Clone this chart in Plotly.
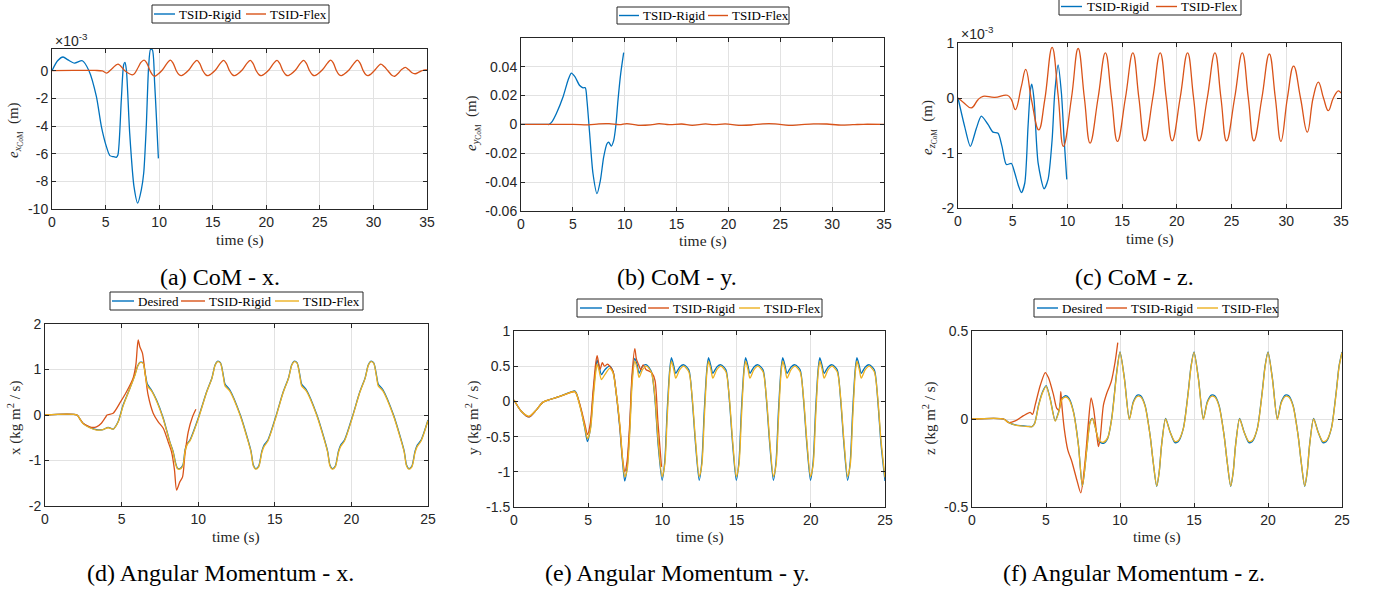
import plotly.graph_objects as go

# ---------------- DATA ----------------
# (a) CoM error x  [values in units of 1e-3 m]
A_RIGID = [(0, 0), (0.5, 0.7), (1.03, 0.99), (1.5, 0.78), (2.1, 0.55), (2.83, 0.72), (3.45, 0.0),
           (4.14, -1.86), (4.6, -4.0), (5.07, -5.47), (5.4, -6.14), (5.75, -6.22), (6.0, -6.27),
           (6.15, -6.1), (6.47, -2.1), (6.69, 0.43), (6.81, 0.6), (6.94, 0.07), (7.25, -4.5),
           (7.65, -8.36), (8.0, -9.57), (8.34, -8.6), (8.56, -7.4), (8.8, -4.0), (9.02, 0.31),
           (9.2, 1.55), (9.37, 1.5), (9.58, -0.9), (9.74, -3.3), (9.93, -6.34)]
A_FLEX = [(0, 0), (2, 0.02), (4, 0.02), (4.7, -0.02), (5.1, -0.17), (5.6, 0.15), (6.16, 0.48),
          (6.8, 0.0), (7.56, -0.29), (8.05, 0.25),
          (8.3, 0.6), (8.59, 0.77), (8.85, 0.55), (9.15, 0.0), (9.4, -0.32), (9.6, -0.4),
          (9.85, -0.28), (10.3, 0.05), (10.75, 0.55),
          (11.05, 0.77), (11.3, 0.55), (11.6, 0.0), (11.87, -0.3), (12.07, -0.36), (12.32, -0.25),
          (12.77, 0.05), (13.23, 0.55),
          (13.53, 0.75), (13.78, 0.53), (14.08, 0.0), (14.36, -0.3), (14.56, -0.36), (14.81, -0.25),
          (15.26, 0.05), (15.72, 0.55),
          (16.02, 0.75), (16.27, 0.53), (16.57, 0.0), (16.85, -0.3), (17.05, -0.36), (17.3, -0.25),
          (17.75, 0.05), (18.21, 0.55),
          (18.51, 0.75), (18.76, 0.53), (19.06, 0.0), (19.34, -0.3), (19.54, -0.36), (19.79, -0.25),
          (20.24, 0.05), (20.7, 0.55),
          (21.0, 0.75), (21.25, 0.53), (21.55, 0.0), (21.83, -0.3), (22.03, -0.36), (22.28, -0.25),
          (22.73, 0.05), (23.19, 0.55),
          (23.49, 0.75), (23.74, 0.53), (24.04, 0.0), (24.32, -0.3), (24.52, -0.36), (24.77, -0.25),
          (25.22, 0.05), (25.71, 0.55),
          (26.01, 0.77), (26.26, 0.55), (26.55, 0.0), (26.8, -0.3), (27.0, -0.36), (27.25, -0.25),
          (27.72, 0.05), (28.2, 0.55),
          (28.5, 0.77), (28.75, 0.55), (29.05, 0.0), (29.3, -0.3), (29.5, -0.36), (29.75, -0.25),
          (30.2, 0.1), (30.68, 0.48), (31.0, 0.3), (31.35, 0.0), (31.75, -0.35), (31.98, -0.4),
          (32.3, -0.2), (32.65, 0.1), (32.98, 0.24), (33.25, 0.1), (33.6, -0.15), (33.9, -0.22),
          (34.3, -0.08), (34.7, 0.05), (35, 0.05)]

# (b) CoM error y [m]
B_RIGID = [(0, 0), (2.5, 0), (2.7, 0.0), (3.0, 0.002), (3.4, 0.0074), (4.05, 0.019), (4.53, 0.0305),
           (4.85, 0.0356), (5.18, 0.0333), (5.66, 0.027), (5.98, 0.0254), (6.2, 0.0254),
           (6.36, 0.0166), (6.62, -0.0065), (6.94, -0.034), (7.33, -0.048), (7.65, -0.039),
           (7.97, -0.0227), (8.29, -0.0134), (8.45, -0.0123), (8.71, -0.015), (8.94, -0.011),
           (9.13, -0.0018), (9.35, 0.0166), (9.61, 0.035), (9.9, 0.0497)]
B_FLEX = [(0, 0), (5, 0), (6.5, -0.0003), (7.5, 0.0004), (8.5, 0.0005), (9.5, -0.0002),
          (10.2, 0.0006), (11.3, -0.0006), (12.5, -0.0003), (13.3, 0.0005), (14.3, -0.0002),
          (15.5, 0.0003), (16.5, -0.0006), (17.8, 0.0004), (18.6, -0.0002), (19.7, 0.0004),
          (21, -0.0006), (22.2, -0.0004), (23.3, 0.0004), (24.5, 0.0004), (25.8, -0.0006),
          (26.8, -0.0003), (28.2, 0.0004), (29.5, 0.0003), (30.6, -0.0004), (32, -0.0002),
          (33, 0.0001), (35, 0.0)]

# (c) CoM error z [units of 1e-3 m]
C_RIGID = [(0, 0), (0.61, -0.52), (1.13, -0.88), (1.68, -0.55), (2.13, -0.33), (2.74, -0.48),
           (3.2, -0.62), (3.66, -0.64), (4.02, -0.88), (4.42, -1.21), (4.88, -1.19), (5.18, -1.36),
           (5.55, -1.61), (5.79, -1.72), (6.1, -1.55), (6.4, -0.52), (6.62, 0.15), (6.74, 0.25),
           (6.95, -0.03), (7.32, -1.18), (7.87, -1.65), (8.23, -1.48), (8.6, -0.76), (8.84, 0.09),
           (9.15, 0.6), (9.45, 0.09), (9.7, -0.76), (9.94, -1.48)]
C_FLEX = [(0, 0), (0.5, -0.08), (1.22, -0.18), (1.83, -0.03), (2.29, 0.03), (3.35, 0.01),
          (4.51, 0.05), (4.88, -0.03), (5.24, -0.21), (5.79, 0.21), (6.19, 0.52), (6.71, -0.03),
          (7.38, -0.58), (7.93, -0.03), (8.6, 0.92), (9.15, 0.05), (9.63, -0.88), (10.37, 0.0),
          (10.98, 0.9), (11.55, 0.0), (12.07, -0.82), (12.8, 0.0), (13.47, 0.82), (14.03, 0.0),
          (14.57, -0.79), (15.3, 0.0), (15.98, 0.82), (16.53, 0.0), (17.07, -0.78), (17.8, 0.0),
          (18.48, 0.82), (19.03, 0.0), (19.57, -0.78), (20.3, 0.0), (20.98, 0.82), (21.53, 0.0),
          (22.04, -0.78), (22.78, 0.0), (23.48, 0.82), (24.03, 0.0), (24.54, -0.78), (25.28, 0.0),
          (25.98, 0.82), (26.53, 0.0), (27.04, -0.78), (27.77, 0.0), (28.45, 0.8), (29.0, 0.0),
          (29.51, -0.79), (30.1, 0.0), (30.67, 0.58), (31.3, 0.0), (31.92, -0.62), (32.45, 0.0),
          (32.93, 0.29), (33.4, 0.0), (33.84, -0.23), (34.3, 0.0), (34.76, 0.13), (35.0, 0.09)]

# (d) Angular momentum x
D_T = [0, 2.09, 2.3, 2.48, 2.92, 3.36, 3.79, 4.12, 4.45, 4.77, 5.1, 5.54, 5.86, 6.05, 6.19, 6.4,
       6.55, 6.68, 6.95, 7.28, 7.72, 8.15, 8.37, 8.52, 8.65, 8.8, 9.0, 9.15, 9.3, 9.46, 10.0,
       10.55, 10.9, 11.1, 11.25, 11.45, 11.65, 11.75, 12.05, 12.75, 13.25, 13.45, 13.6, 13.75,
       13.95, 14.15, 14.3, 14.55, 15.05, 15.55, 15.9, 16.1, 16.25, 16.45, 16.65, 16.75, 17.05,
       17.75, 18.25, 18.45, 18.6, 18.75, 18.95, 19.15, 19.3, 19.55, 20.05, 20.55, 20.9, 21.1,
       21.25, 21.45, 21.65, 21.75, 22.05, 22.75, 23.25, 23.45, 23.6, 23.75, 23.95, 24.15, 24.3,
       24.55, 25.0]
D_DES = [0, 0, -0.1, -0.18, -0.27, -0.32, -0.32, -0.27, -0.31, -0.15, 0.22, 0.59, 0.88, 1.08,
         1.16, 1.15, 0.9, 0.68, 0.55, 0.33, -0.07, -0.59, -0.81, -1.05, -1.17, -1.18, -1.1, -0.75,
         -0.62, -0.55, -0.07, 0.51, 0.82, 1.1, 1.18, 1.15, 0.85, 0.68, 0.56, 0.0, -0.55, -0.8,
         -1.1, -1.18, -1.12, -0.8, -0.66, -0.55, -0.05, 0.51, 0.82, 1.1, 1.18, 1.15, 0.85, 0.68,
         0.56, 0.0, -0.55, -0.8, -1.1, -1.18, -1.12, -0.8, -0.66, -0.55, -0.05, 0.51, 0.82, 1.1,
         1.18, 1.15, 0.85, 0.68, 0.56, 0.0, -0.55, -0.8, -1.1, -1.18, -1.12, -0.8, -0.66, -0.55,
         -0.11]
D_FLEX = [0, 0, -0.1, -0.19, -0.28, -0.33, -0.32, -0.28, -0.31, -0.16, 0.2, 0.58, 0.86, 1.07,
          1.15, 1.14, 0.87, 0.64, 0.53, 0.31, -0.09, -0.6, -0.83, -1.07, -1.18, -1.19, -1.12,
          -0.78, -0.64, -0.57, -0.09, 0.5, 0.81, 1.09, 1.17, 1.14, 0.82, 0.64, 0.53, -0.02, -0.57,
          -0.82, -1.12, -1.19, -1.14, -0.83, -0.69, -0.57, -0.07, 0.5, 0.81, 1.09, 1.17, 1.14,
          0.82, 0.64, 0.53, -0.02, -0.57, -0.82, -1.12, -1.19, -1.14, -0.83, -0.69, -0.57, -0.07,
          0.5, 0.81, 1.09, 1.17, 1.14, 0.82, 0.64, 0.53, -0.02, -0.57, -0.82, -1.12, -1.19, -1.14,
          -0.83, -0.69, -0.57, -0.12]
D_RIGID = [(0, 0), (2.09, 0), (2.3, -0.1), (2.48, -0.18), (3.03, -0.27), (3.36, -0.26),
           (3.68, -0.18), (3.97, -0.04), (4.05, 0.0), (4.45, 0.04), (4.88, 0.26), (5.32, 0.51),
           (5.75, 0.81), (5.93, 1.1), (6.08, 1.65), (6.19, 1.5), (6.36, 1.36), (6.52, 0.96),
           (6.73, 0.44), (7.06, 0.04), (7.39, -0.15), (7.72, -0.29), (8.04, -0.59), (8.26, -0.81),
           (8.45, -1.2), (8.59, -1.65), (8.8, -1.47), (8.98, -1.36), (9.13, -0.88), (9.35, -0.37),
           (9.63, -0.04), (9.85, 0.125)]

# (e) Angular momentum y
E_T = [0, 0.49, 1.01, 1.51, 1.96, 3.08, 4.09, 4.2, 4.54, 4.77, 4.95, 5.15, 5.33, 5.51, 5.6,
       5.73, 5.89, 6.12, 6.45, 6.68, 6.9, 7.13, 7.31, 7.46, 7.62, 7.8, 7.96, 8.14, 8.3, 8.43,
       8.66, 8.93, 9.26, 9.49, 9.71,
       9.98, 10.16, 10.32, 10.5, 10.61, 10.77, 10.9, 11.17, 11.44, 11.78, 12.0, 12.23,
       12.48, 12.66, 12.82, 13.0, 13.11, 13.27, 13.4, 13.67, 13.94, 14.28, 14.5, 14.73,
       14.98, 15.16, 15.32, 15.5, 15.61, 15.77, 15.9, 16.17, 16.44, 16.78, 17.0, 17.23,
       17.48, 17.66, 17.82, 18.0, 18.11, 18.27, 18.4, 18.67, 18.94, 19.28, 19.5, 19.73,
       19.98, 20.16, 20.32, 20.5, 20.61, 20.77, 20.9, 21.17, 21.44, 21.78, 22.0, 22.23,
       22.48, 22.66, 22.82, 23.0, 23.11, 23.27, 23.4, 23.67, 23.94, 24.28, 24.5, 24.73, 25.0]
E_DES = [0.02, -0.14, -0.22, -0.12, -0.01, 0.07, 0.15, 0.12, -0.14, -0.38, -0.57, -0.38, 0.09,
         0.47, 0.59, 0.5, 0.38, 0.45, 0.5, 0.42, 0.09, -0.38, -0.85, -1.13, -0.94, -0.38, 0.33,
         0.61, 0.52, 0.4, 0.5, 0.52, 0.42, 0.05, -0.61,
         -1.12, -0.85, -0.14, 0.47, 0.62, 0.5, 0.4, 0.49, 0.52, 0.45, 0.05, -0.6,
         -1.12, -0.85, -0.14, 0.47, 0.62, 0.5, 0.4, 0.49, 0.52, 0.45, 0.05, -0.6,
         -1.12, -0.85, -0.14, 0.47, 0.62, 0.5, 0.4, 0.49, 0.52, 0.45, 0.05, -0.6,
         -1.12, -0.85, -0.14, 0.47, 0.62, 0.5, 0.4, 0.49, 0.52, 0.45, 0.05, -0.6,
         -1.12, -0.85, -0.14, 0.47, 0.62, 0.5, 0.4, 0.49, 0.52, 0.45, 0.05, -0.6,
         -1.12, -0.85, -0.14, 0.47, 0.62, 0.5, 0.4, 0.49, 0.52, 0.45, 0.05, -0.6, -1.13]
E_FLEX = [0.02, -0.14, -0.21, -0.12, -0.01, 0.07, 0.14, 0.11, -0.15, -0.37, -0.53, -0.4, 0.02,
          0.42, 0.53, 0.44, 0.31, 0.38, 0.47, 0.4, 0.1, -0.33, -0.8, -1.07, -0.98, -0.45, 0.25,
          0.57, 0.47, 0.34, 0.45, 0.5, 0.41, 0.08, -0.55,
          -1.07, -0.9, -0.25, 0.42, 0.57, 0.45, 0.33, 0.45, 0.5, 0.42, 0.08, -0.55,
          -1.07, -0.9, -0.25, 0.42, 0.57, 0.45, 0.33, 0.45, 0.5, 0.42, 0.08, -0.55,
          -1.07, -0.9, -0.25, 0.42, 0.57, 0.45, 0.33, 0.45, 0.5, 0.42, 0.08, -0.55,
          -1.07, -0.9, -0.25, 0.42, 0.57, 0.45, 0.33, 0.45, 0.5, 0.42, 0.08, -0.55,
          -1.07, -0.9, -0.25, 0.42, 0.57, 0.45, 0.33, 0.45, 0.5, 0.42, 0.08, -0.55,
          -1.07, -0.9, -0.25, 0.42, 0.57, 0.45, 0.33, 0.45, 0.5, 0.42, 0.08, -0.55, -1.08]
E_RIGID = [(0, 0.02), (0.49, -0.14), (1.01, -0.22), (1.51, -0.12), (1.96, -0.01), (3.08, 0.07),
           (4.09, 0.14), (4.2, 0.11), (4.54, -0.12), (4.77, -0.32), (4.95, -0.47), (5.15, -0.3),
           (5.33, 0.15), (5.51, 0.55), (5.6, 0.65), (5.7, 0.55), (5.8, 0.45), (5.95, 0.55),
           (6.1, 0.5), (6.3, 0.53), (6.45, 0.5), (6.68, 0.42), (6.9, 0.1), (7.13, -0.35),
           (7.31, -0.8), (7.46, -1.0), (7.62, -0.85), (7.8, -0.3), (7.96, 0.4), (8.14, 0.75),
           (8.25, 0.6), (8.4, 0.52), (8.55, 0.45), (8.7, 0.52), (8.9, 0.45), (9.1, 0.43),
           (9.3, 0.4), (9.5, 0.3), (9.7, -0.3), (9.94, -0.93)]

# (f) Angular momentum z
F_T = [0, 2.14, 2.47, 2.92, 3.82, 4.05, 4.23, 4.5, 4.77, 5.01, 5.28, 5.62, 5.85, 6.07, 6.34,
       6.56, 6.86, 7.19, 7.46, 7.76, 7.98, 8.14, 8.32, 8.59, 8.88, 9.17, 9.44, 9.78,
       10.0, 10.3, 10.63, 10.9, 11.17, 11.4, 11.69, 12.03, 12.25, 12.48, 12.65, 12.81, 13.08,
       13.38, 13.71, 13.94, 14.28, 14.61, 14.8,
       15.0, 15.3, 15.63, 15.9, 16.17, 16.4, 16.69, 17.03, 17.25, 17.48, 17.65, 17.81, 18.08,
       18.38, 18.71, 18.94, 19.28, 19.61, 19.8,
       20.0, 20.3, 20.63, 20.9, 21.17, 21.4, 21.69, 22.03, 22.25, 22.48, 22.65, 22.81, 23.08,
       23.38, 23.71, 23.94, 24.28, 24.61, 24.8, 25.0]
F_DES = [0, 0, -0.019, -0.034, -0.042, -0.043, -0.025, 0.08, 0.155, 0.19, 0.117, -0.01, 0.04,
         0.117, 0.132, 0.117, 0.04, -0.147, -0.383, -0.166, -0.015, 0.004, -0.043, -0.128,
         -0.138, -0.11, 0.004, 0.268,
         0.381, 0.23, 0.0, 0.098, 0.136, 0.132, 0.079, -0.09, -0.25, -0.383, -0.3, -0.147, 0.004,
         -0.072, -0.134, -0.128, -0.053, 0.155, 0.3,
         0.381, 0.23, 0.0, 0.098, 0.136, 0.132, 0.079, -0.09, -0.25, -0.383, -0.3, -0.147, 0.004,
         -0.072, -0.134, -0.128, -0.053, 0.155, 0.3,
         0.381, 0.23, 0.0, 0.098, 0.136, 0.132, 0.079, -0.09, -0.25, -0.383, -0.3, -0.147, 0.004,
         -0.072, -0.134, -0.128, -0.053, 0.155, 0.3, 0.381]
F_FLEX = [0, 0, -0.02, -0.035, -0.043, -0.044, -0.027, 0.075, 0.15, 0.185, 0.112, -0.012, 0.035,
          0.11, 0.125, 0.11, 0.036, -0.15, -0.38, -0.17, -0.02, 0.002, -0.045, -0.122, -0.132,
          -0.106, 0.0, 0.26,
          0.378, 0.226, -0.003, 0.092, 0.128, 0.125, 0.074, -0.092, -0.25, -0.38, -0.3, -0.15,
          0.0, -0.074, -0.128, -0.122, -0.055, 0.15, 0.295,
          0.378, 0.226, -0.003, 0.092, 0.128, 0.125, 0.074, -0.092, -0.25, -0.38, -0.3, -0.15,
          0.0, -0.074, -0.128, -0.122, -0.055, 0.15, 0.295,
          0.378, 0.226, -0.003, 0.092, 0.128, 0.125, 0.074, -0.092, -0.25, -0.38, -0.3, -0.15,
          0.0, -0.074, -0.128, -0.122, -0.055, 0.15, 0.295, 0.378]
F_RIGID = [(0, 0), (2.14, 0), (2.47, -0.02), (2.92, -0.011), (3.48, 0.019), (3.93, 0.038),
           (4.09, 0.026), (4.27, 0.08), (4.61, 0.19), (4.95, 0.264), (5.17, 0.234), (5.51, 0.136),
           (5.73, 0.06), (5.89, 0.051), (6.0, 0.155), (6.07, 0.08), (6.23, -0.053), (6.47, -0.175),
           (6.74, -0.24), (7.08, -0.345), (7.35, -0.42), (7.64, -0.24), (7.87, -0.015),
           (8.05, 0.12), (8.21, 0.06), (8.43, -0.09), (8.54, -0.157), (8.66, -0.11), (8.88, 0.079),
           (9.1, 0.145), (9.4, 0.21), (9.67, 0.325), (9.85, 0.434)]

assert len(D_T) == len(D_DES) == len(D_FLEX)
assert len(E_T) == len(E_DES) == len(E_FLEX)
assert len(F_T) == len(F_DES) == len(F_FLEX)

# ---------------- STYLE ----------------
BLUE = "#0072BD"
ORANGE = "#D95319"
YELLOW = "#EDB120"
W, H = 1375, 592
SERIF = "Liberation Serif"
SANS = "Liberation Sans"
AXC = "#262626"


def px(x0, x1):
    return [x0 / W, x1 / W]


def py(top, bottom):
    return [1 - bottom / H, 1 - top / H]


fig = go.Figure()


def add(xs, ys, color, name, xa, ya, smooth=0.7, width=1.3):
    fig.add_trace(go.Scatter(x=list(xs), y=list(ys), mode="lines", name=name, showlegend=False,
                             line=dict(color=color, width=width, shape="spline", smoothing=smooth),
                             xaxis=xa, yaxis=ya))


def pairs(p):
    return [a for a, _ in p], [b for _, b in p]


# (a)
add(*pairs(A_RIGID), BLUE, "TSID-Rigid", "x", "y")
add(*pairs(A_FLEX), ORANGE, "TSID-Flex", "x", "y", smooth=1.0)
# (b)
add(*pairs(B_RIGID), BLUE, "TSID-Rigid", "x2", "y2")
add(*pairs(B_FLEX), ORANGE, "TSID-Flex", "x2", "y2", smooth=1.0)
# (c)
add(*pairs(C_RIGID), BLUE, "TSID-Rigid", "x3", "y3")
add(*pairs(C_FLEX), ORANGE, "TSID-Flex", "x3", "y3", smooth=1.25)
# (d)
add(D_T, D_DES, BLUE, "Desired", "x4", "y4")
add(*pairs(D_RIGID), ORANGE, "TSID-Rigid", "x4", "y4")
add(D_T, D_FLEX, YELLOW, "TSID-Flex", "x4", "y4")
# (e)
add(E_T, E_DES, BLUE, "Desired", "x5", "y5")
add(*pairs(E_RIGID), ORANGE, "TSID-Rigid", "x5", "y5")
add(E_T, E_FLEX, YELLOW, "TSID-Flex", "x5", "y5")
# (f)
add(F_T, F_DES, BLUE, "Desired", "x6", "y6")
add(*pairs(F_RIGID), ORANGE, "TSID-Rigid", "x6", "y6")
add(F_T, F_FLEX, YELLOW, "TSID-Flex", "x6", "y6")


def axis(domain, rng, tv, tt, anchor):
    return dict(domain=domain, range=rng, tickvals=tv, ticktext=tt, anchor=anchor,
                automargin=False,
                showgrid=True, gridcolor="#e2e2e2", gridwidth=1, zeroline=False,
                showline=True, linecolor=AXC, linewidth=1, mirror="ticks",
                ticks="inside", ticklen=4, tickcolor=AXC,
                tickfont=dict(family=SANS, size=14, color=AXC))


X35 = [0, 5, 10, 15, 20, 25, 30, 35]
X25 = [0, 5, 10, 15, 20, 25]
lab = lambda vals: [str(v) for v in vals]

panels = {
    "a": dict(x=px(52, 427), y=py(49, 209)),
    "b": dict(x=px(521, 884), y=py(38, 211)),
    "c": dict(x=px(958, 1341), y=py(43, 208)),
    "d": dict(x=px(45, 428), y=py(324, 506)),
    "e": dict(x=px(514, 885), y=py(331, 507)),
    "f": dict(x=px(972, 1342), y=py(331, 507)),
}

fig.update_layout(
    xaxis=axis(panels["a"]["x"], [0, 35], X35, lab(X35), "y"),
    yaxis=axis(panels["a"]["y"], [-10, 1.57], [-10, -8, -6, -4, -2, 0],
               ["-10", "-8", "-6", "-4", "-2", "0"], "x"),
    xaxis2=axis(panels["b"]["x"], [0, 35], X35, lab(X35), "y2"),
    yaxis2=axis(panels["b"]["y"], [-0.06, 0.0599], [-0.06, -0.04, -0.02, 0, 0.02, 0.04],
                ["-0.06", "-0.04", "-0.02", "0", "0.02", "0.04"], "x2"),
    xaxis3=axis(panels["c"]["x"], [0, 35], X35, lab(X35), "y3"),
    yaxis3=axis(panels["c"]["y"], [-2, 1], [-2, -1, 0, 1], ["-2", "-1", "0", "1"], "x3"),
    xaxis4=axis(panels["d"]["x"], [0, 25], X25, lab(X25), "y4"),
    yaxis4=axis(panels["d"]["y"], [-2, 2], [-2, -1, 0, 1, 2], ["-2", "-1", "0", "1", "2"], "x4"),
    xaxis5=axis(panels["e"]["x"], [0, 25], X25, lab(X25), "y5"),
    yaxis5=axis(panels["e"]["y"], [-1.5, 1], [-1.5, -1, -0.5, 0, 0.5, 1],
                ["-1.5", "-1", "-0.5", "0", "0.5", "1"], "x5"),
    xaxis6=axis(panels["f"]["x"], [0, 25], X25, lab(X25), "y6"),
    yaxis6=axis(panels["f"]["y"], [-0.5, 0.5], [-0.5, 0, 0.5], ["-0.5", "0", "0.5"], "x6"),
)

fig.update_layout(
    width=W, height=H, margin=dict(l=0, r=0, t=0, b=0, autoexpand=False),
    paper_bgcolor="white", plot_bgcolor="white", showlegend=False,
)

ann = []
shapes = []


def text(x, y, s, size, family=SERIF, angle=0, color=AXC, xanchor="center"):
    ann.append(dict(x=x / W, y=1 - y / H, xref="paper", yref="paper", text=s, showarrow=False,
                    textangle=angle, xanchor=xanchor, yanchor="middle",
                    font=dict(family=family, size=size, color=color)))


# legends (box, sample line and label per entry) — pixel layout
LEGENDS = [
    dict(box=(152, 329, 5, 23), cy=14,
         items=[(154, 175, 177, "TSID-Rigid", BLUE), (246, 266, 268, "TSID-Flex", ORANGE)]),
    dict(box=(617, 789, 7, 24), cy=15.5,
         items=[(619, 639, 641, "TSID-Rigid", BLUE), (708, 728, 730, "TSID-Flex", ORANGE)]),
    dict(box=(1059, 1241, -3, 15), cy=6.5,
         items=[(1061, 1082, 1085, "TSID-Rigid", BLUE), (1156, 1177, 1179, "TSID-Flex", ORANGE)]),
    dict(box=(110, 363, 292, 310), cy=301,
         items=[(112, 134, 136, "Desired", BLUE), (181, 205, 207, "TSID-Rigid", ORANGE),
                (275, 299, 301, "TSID-Flex", YELLOW)]),
    dict(box=(577, 822, 299, 317), cy=308,
         items=[(580, 602, 604, "Desired", BLUE), (648, 669, 671, "TSID-Rigid", ORANGE),
                (739, 760, 762, "TSID-Flex", YELLOW)]),
    dict(box=(1034, 1278, 299, 317), cy=308,
         items=[(1037, 1058, 1060, "Desired", BLUE), (1106, 1127, 1129, "TSID-Rigid", ORANGE),
                (1197, 1218, 1220, "TSID-Flex", YELLOW)]),
]
for lg in LEGENDS:
    x0, x1, t0, t1 = lg["box"]
    shapes.append(dict(type="rect", xref="paper", yref="paper", x0=x0 / W, x1=x1 / W,
                       y0=1 - t1 / H, y1=1 - t0 / H, line=dict(color=AXC, width=1),
                       fillcolor="white", layer="above"))
    for lx0, lx1, tx, label, col in lg["items"]:
        shapes.append(dict(type="line", xref="paper", yref="paper", x0=lx0 / W, x1=lx1 / W,
                           y0=1 - lg["cy"] / H, y1=1 - lg["cy"] / H,
                           line=dict(color=col, width=1.4), layer="above"))
        text(tx, lg["cy"], label, 13, color="black", xanchor="left")

# x-axis titles
for cx, cy in [(239.5, 240), (702.5, 241), (1149.5, 239), (236.5, 537), (699.5, 537), (1157, 537)]:
    text(cx, cy, "time (s)", 15.5)

# y-axis titles
text(15, 130, "<i>e</i><sub><i>x</i><sub>CoM</sub></sub>  (m)", 15, angle=-90)
text(473, 123, "<i>e</i><sub><i>y</i><sub>CoM</sub></sub>  (m)", 15, angle=-90)
text(929, 127, "<i>e</i><sub><i>z</i><sub>CoM</sub></sub>  (m)", 15, angle=-90)
text(15, 418, "x (kg m<sup>2</sup> / s)", 15, angle=-90)
text(473, 418, "y (kg m<sup>2</sup> / s)", 15, angle=-90)
text(930, 418, "z (kg m<sup>2</sup> / s)", 15, angle=-90)

# exponent labels
text(53, 40, "×10<sup>-3</sup>", 14, family=SANS, xanchor="left")
text(959, 33, "×10<sup>-3</sup>", 14, family=SANS, xanchor="left")

# captions
caps = [(220, 277, "(a) CoM - x."), (677, 277, "(b) CoM - y."), (1134, 277, "(c) CoM - z."),
        (220, 573, "(d) Angular Momentum - x."), (677, 573, "(e) Angular Momentum - y."),
        (1134, 573, "(f) Angular Momentum - z.")]
for cx, cy, s in caps:
    text(cx, cy, s, 24, color="black")

fig.update_layout(annotations=ann, shapes=shapes)
# remove the browser's default 8px page margin so the figure sits at the window's corner
fig.write_html("out.html", config={"displayModeBar": False},
               post_script="document.body.style.margin='0px';")
